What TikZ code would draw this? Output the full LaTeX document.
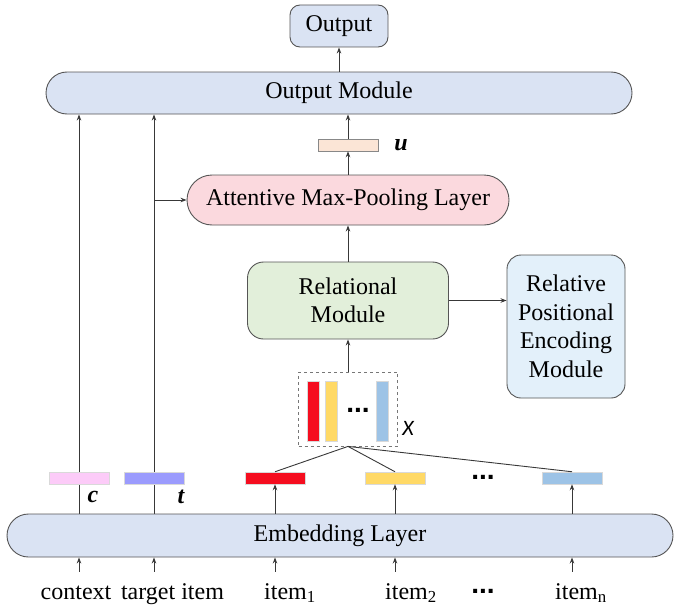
\documentclass[tikz,border=0pt]{standalone}
\usepackage{fontspec}
\setmainfont{Liberation Serif}
\setsansfont{Carlito}
\newfontfamily\dotfont{Liberation Sans}
\usetikzlibrary{arrows.meta,positioning,backgrounds}
\definecolor{edge}{HTML}{383838}
\definecolor{frame}{HTML}{555555}
\definecolor{slate}{HTML}{DAE3F3}
\definecolor{rose}{HTML}{FBD9DE}
\definecolor{sage}{HTML}{E2EFDA}
\definecolor{sky}{HTML}{E3F0FA}
\definecolor{peach}{HTML}{FBE5D6}
\definecolor{orchid}{HTML}{FCCBF8}
\definecolor{lilac}{HTML}{9B9BFD}
\definecolor{hot}{HTML}{F50D1F}
\definecolor{gold}{HTML}{FFD966}
\definecolor{steel}{HTML}{9DC3E6}
\newcommand{\labelfont}{\fontsize{24}{28.5}\selectfont}
\tikzset{
  flow/.style={-{Stealth[length=6pt,width=4.5pt]},line width=0.9pt,edge},
  link/.style={line width=0.9pt,edge},
  pill/.style={draw=frame,line width=0.9pt,fill=slate,inner sep=0pt,align=center,font=\labelfont},
  block/.style={draw=frame,line width=0.9pt,rounded corners=16pt,inner sep=0pt,align=center,font=\labelfont},
  vec/.style={draw=black!15,line width=0.5pt,minimum width=60pt,minimum height=12pt,inner sep=0pt},
  bar/.style={draw=black!15,line width=0.5pt,minimum width=12pt,minimum height=60pt,inner sep=0pt},
  sym/.style={font=\labelfont\bfseries\itshape,inner sep=0pt},
  dotsym/.style={font=\dotfont\bfseries\fontsize{28}{28}\selectfont,inner sep=0pt},
  inlabel/.style={font=\labelfont,inner xsep=0pt,inner ysep=11pt,text height=16pt,text depth=5pt,anchor=base}
}
\begin{document}
\begin{tikzpicture}[x=1pt,y=-1pt]
\useasboundingbox (0,0) rectangle (674,610);
% upper part
\node[pill,minimum width=98pt,minimum height=42pt,rounded corners=10pt] (out) at (339,26) {Output};
\node[pill,minimum width=586pt,minimum height=42pt,rounded corners=21pt] (outmod) at (339,93) {Output Module};
\node[vec,fill=peach,draw=frame!70] (u) at (348,145) {};
\node[sym] (ulab) at (401,145) {u};
\node[pill,fill=rose,minimum width=322pt,minimum height=50pt,rounded corners=25pt] (attn) at (348,200) {Attentive Max-Pooling Layer};
\node[block,fill=sage,minimum width=201pt,minimum height=77pt] (rel) at (348,300.5) {Relational\\Module};
\node[block,fill=sky,minimum width=118pt,minimum height=143pt,rounded corners=14pt] (rpe) at (566,326.5)
  {Relative\\Positional\\Encoding\\Module};
% item matrix X
\node[draw=frame!80,dashed,line width=0.8pt,minimum width=99pt,minimum height=74pt,inner sep=0pt] (xbox) at (348,409) {};
\node[bar,fill=hot] (b1) at (313,411) {};
\node[bar,fill=gold] (b2) at (331,411) {};
\node[dotsym] (bdots) at (358,410) {...};
\node[bar,fill=steel] (bn) at (382,411) {};
\node[font=\sffamily\itshape\fontsize{22}{24}\selectfont,inner sep=0pt] (xlab) at (408,428) {X};
% embeddings
\node[vec,fill=orchid] (cvec) at (79,478) {};
\node[vec,fill=lilac] (tvec) at (154,478) {};
\node[vec,fill=hot] (v1) at (275,478) {};
\node[vec,fill=gold] (v2) at (395,478) {};
\node[dotsym] (vdots) at (483,477) {...};
\node[vec,fill=steel] (vn) at (572,478) {};
\node[sym] (clab) at (93,497) {c};
\node[sym] (tlab) at (181,497) {t};
\node[pill,minimum width=666pt,minimum height=43pt,rounded corners=21.5pt] (emb) at (340,535.5) {Embedding Layer};
% inputs
\node[inlabel] (ctx) at (76,599) {context};
\node[inlabel] (tgt) at (172.5,599) {target item};
\node[inlabel] (in1) at (290,599) {item\textsubscript{1}};
\node[inlabel] (in2) at (411,599) {item\textsubscript{2}};
\node[dotsym] (indots) at (483,591) {...};
\node[inlabel] (inn) at (581,599) {item\textsubscript{n}};
% connectors
\begin{scope}[on background layer]
\draw[flow] (emb.north -| cvec) -- (outmod.south -| cvec);
\draw[flow] (emb.north -| tvec) -- (outmod.south -| tvec);
\end{scope}
\draw[flow] (attn.west -| tvec) -- (attn.west);
\draw[flow] (outmod.north) -- (out.south);
\draw[flow] (u.north) -- (outmod.south -| u);
\draw[flow] (attn.north) -- (u.south);
\draw[flow] (rel.north) -- (attn.south);
\draw[flow] (rel.east) -- (rel.east -| rpe.west);
\draw[flow] (xbox.north) -- (rel.south);
\draw[link] (xbox.south) -- (v1.north);
\draw[link] (xbox.south) -- (v2.north);
\draw[link] (xbox.south) -- (vn.north);
\draw[flow] (emb.north -| v1) -- (v1.south);
\draw[flow] (emb.north -| v2) -- (v2.south);
\draw[flow] (emb.north -| vn) -- (vn.south);
\draw[flow] (ctx.north -| cvec) -- (emb.south -| cvec);
\draw[flow] (tgt.north -| tvec) -- (emb.south -| tvec);
\draw[flow] (in1.north -| v1) -- (emb.south -| v1);
\draw[flow] (in2.north -| v2) -- (emb.south -| v2);
\draw[flow] (inn.north -| vn) -- (emb.south -| vn);
\end{tikzpicture}
\end{document}
